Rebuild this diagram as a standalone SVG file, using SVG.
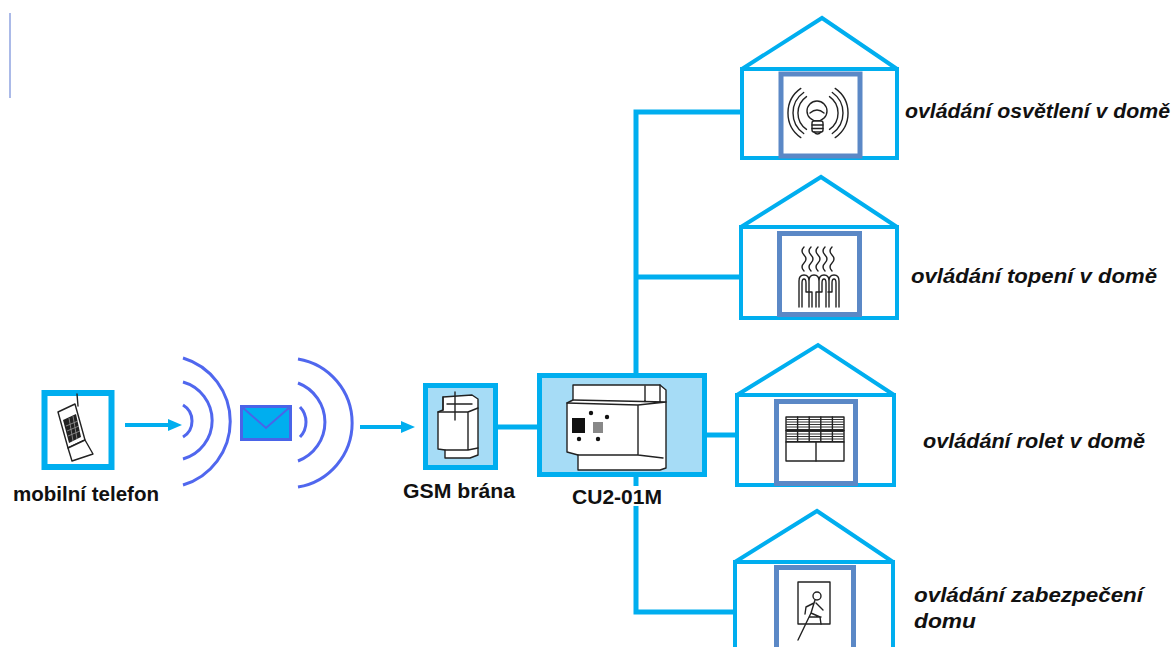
<svg xmlns="http://www.w3.org/2000/svg" width="1173" height="647" viewBox="0 0 1173 647">
  <style>
    .wire { fill: none; stroke: #00AEEF; stroke-width: 5; stroke-linejoin: miter; }
    .arrow { fill: none; stroke: #00AEEF; stroke-width: 4; }
    .box { stroke: #00AEEF; stroke-width: 5; }
    .house { fill: none; stroke: #00AEEF; stroke-width: 4; stroke-linejoin: miter; }
    .frame { fill: #FFFFFF; stroke: #5B88C6; stroke-width: 5; }
    .wave { fill: none; stroke: #5067EE; stroke-width: 3; }
    .ink { fill: none; stroke: #222; stroke-width: 1.4; stroke-linecap: round; stroke-linejoin: round; }
    .inkw { fill: #FFFFFF; stroke: #222; stroke-width: 1.4; stroke-linejoin: round; }
    .lbl { font-family: "Liberation Sans", "DejaVu Sans", sans-serif; font-weight: bold; font-size: 20px; fill: #111; }
    .cap { font-family: "Liberation Sans", "DejaVu Sans", sans-serif; font-weight: bold; font-style: italic; font-size: 20px; fill: #111; }
  </style>
  <defs>
    <marker id="head" viewBox="0 0 14 12" markerWidth="14" markerHeight="12" refX="0" refY="6" orient="auto" markerUnits="userSpaceOnUse">
      <path d="M0,0 L14,6 L0,12 Z" fill="#00AEEF"/>
    </marker>
  </defs>

  <rect width="1173" height="647" fill="#FFFFFF"/>
  <line x1="10" y1="13" x2="10" y2="98" stroke="#8FA3E0" stroke-width="1.5"/>

  <!-- connectors -->
  <g id="connectors">
    <path class="arrow" d="M125,425 H168" marker-end="url(#head)"/>
    <path class="arrow" d="M360,427 H401" marker-end="url(#head)"/>
    <path class="wire" d="M498,427 H537"/>
    <path class="wire" d="M742,112 H636 V373"/>
    <path class="wire" d="M636,277 H741"/>
    <path class="wire" d="M707,435 H737"/>
    <path class="wire" d="M636,477 V486"/>
    <path class="wire" d="M636,506 V612 H735"/>
  </g>

  <!-- mobile phone -->
  <g id="phone">
    <rect x="44.5" y="393" width="67" height="74" fill="#FFFFFF" stroke="#00AEEF" stroke-width="6"/>
    <line class="ink" x1="77" y1="394" x2="78" y2="406" stroke-width="2"/>
    <path class="inkw" d="M58,412 L75,404 L85,440 L68,448 Z"/>
    <path d="M63,420 L76,414 L81,437 L69,443 Z" fill="#222"/>
    <path d="M66,426 L78,421 M67,431 L79,426 M68,436 L80,431 M69,418 L73,441 M73,416 L77,439" stroke="#999" stroke-width="0.8"/>
    <path class="inkw" d="M68,448 L85,440 L93,454 L72,461 Z" stroke="#666"/>
    <text class="lbl" x="13" y="501" textLength="146" lengthAdjust="spacingAndGlyphs">mobilní telefon</text>
  </g>

  <!-- radio waves and message -->
  <g id="message">
    <path class="wave" d="M183,358 A66.3,66.3 0 0 1 183,485"/>
    <path class="wave" d="M183,382 A40,40 0 0 1 183,459"/>
    <path class="wave" d="M183,405 A18.7,18.7 0 0 1 183,437"/>
    <rect x="241.5" y="406.5" width="49" height="33" fill="#00AEEF" stroke="#4A64E8" stroke-width="3"/>
    <path d="M242,407 L266,428 L290,407" fill="none" stroke="#4A64E8" stroke-width="2"/>
    <path class="wave" d="M298,359 A64.9,64.9 0 0 1 298,487"/>
    <path class="wave" d="M298,383 A41.7,41.7 0 0 1 298,461"/>
    <path class="wave" d="M300,407 A21.75,21.75 0 0 1 300,437"/>
  </g>

  <!-- GSM gateway -->
  <g id="gsm">
    <rect class="box" x="425.5" y="385.5" width="70" height="82" fill="#A6DCF6"/>
    <path class="inkw" d="M443,397 L472,395 L478,399 L478,455 L470,458 L445,458 L445,450 L438,449 L438,412 L443,410 Z"/>
    <path class="ink" d="M438,412 L468,412 L468,450 L445,450 M468,412 L478,408 M443,397 L443,410 M455,392 V420 M447,404 H472 M468,450 L478,448"/>
    <text class="lbl" x="403" y="498" textLength="112" lengthAdjust="spacingAndGlyphs">GSM brána</text>
  </g>

  <!-- control unit -->
  <g id="cu">
    <rect class="box" x="539.5" y="375.5" width="165" height="99" fill="#A6DCF6"/>
    <path class="inkw" d="M573,385 L660,385 L666,390 L666,468 L660,470 L578,470 L578,455 L567,452 L567,403 L573,400 Z"/>
    <path class="ink" d="M573,400 L666,402 M567,403 L638,405 L666,402 M638,405 V455 M578,455 L638,455 L663,458 M660,385 V402 M645,386 V402"/>
    <rect x="572" y="418" width="13" height="15" fill="#111"/>
    <rect x="593" y="422" width="10" height="11" fill="#888"/>
    <circle cx="591" cy="413" r="2.2" fill="#111"/>
    <circle cx="607" cy="417" r="2.2" fill="#111"/>
    <circle cx="579" cy="439" r="2.2" fill="#111"/>
    <circle cx="598" cy="439" r="2.2" fill="#111"/>
    <text class="lbl" x="572" y="504" textLength="90" lengthAdjust="spacingAndGlyphs">CU2-01M</text>
  </g>

  <!-- lighting -->
  <g id="house-light">
    <path class="house" d="M742,69 L822,18 L897,69"/>
    <rect class="house" x="742" y="69" width="155" height="89"/>
    <rect class="frame" x="781" y="74" width="79" height="82"/>
    <circle class="ink" cx="817" cy="111" r="10"/>
    <path class="ink" d="M810,113 Q817,107 824,113"/>
    <rect class="inkw" x="812" y="121" width="11" height="11" rx="2"/>
    <path class="ink" d="M812,125 H823 M812,128.5 H823 M814,132 Q817.5,136 821,132"/>
    <path class="wave ink" d="M806.5,96.6 A20,20 0 0 0 806.5,129.4 M803.7,92.5 A25,25 0 0 0 803.7,133.5 M800.8,88.4 A30,30 0 0 0 800.8,137.6"/>
    <path class="wave ink" d="M829.5,96.6 A20,20 0 0 1 829.5,129.4 M832.3,92.5 A25,25 0 0 1 832.3,133.5 M835.2,88.4 A30,30 0 0 1 835.2,137.6"/>
    <text class="cap" x="905" y="118" textLength="265" lengthAdjust="spacingAndGlyphs">ovládání osvětlení v domě</text>
  </g>

  <!-- heating -->
  <g id="house-heat">
    <path class="house" d="M741,227 L821,177 L897,227"/>
    <rect class="house" x="741" y="227" width="156" height="91"/>
    <rect class="frame" x="779.5" y="233.5" width="80" height="81"/>
    <path class="ink" d="M804,247 q-4,4 0,8 t0,8 t0,8 M811,247 q-4,4 0,8 t0,8 t0,8 M818,247 q-4,4 0,8 t0,8 t0,8 M825,247 q-4,4 0,8 t0,8 t0,8 M832,247 q-4,4 0,8 t0,8 t0,8"/>
    <path class="ink" d="M799,307 V281 Q799,275 804,275 Q809,275 809,281 V307 M809,307 V281 Q809,275 814,275 Q819,275 819,281 V307 M819,307 V281 Q819,275 824,275 Q829,275 829,281 V307 M829,307 V281 Q829,275 834,275 Q839,275 839,281 V307"/>
    <path class="ink" d="M802,307 V283 Q802,279 804,279 Q806,279 806,283 V292 H812 M816,292 H822 V283 Q822,279 824,279 Q826,279 826,283 V307 M832,292 V283 Q832,279 834,279 Q836,279 836,283 V307 M812,292 V307 M816,292 V307 M832,292 H828"/>
    <text class="cap" x="911" y="283" textLength="246" lengthAdjust="spacingAndGlyphs">ovládání topení v domě</text>
  </g>

  <!-- blinds -->
  <g id="house-blinds">
    <path class="house" d="M737,395 L818,345 L894,395"/>
    <rect class="house" x="737" y="395" width="157" height="90"/>
    <rect class="frame" x="776.5" y="401.5" width="79" height="82"/>
    <rect class="inkw" x="786" y="417" width="58" height="44"/>
    <path d="M786,419.5 H844 M786,422 H844 M786,424.5 H844 M786,427 H844 M786,429.5 H844 M786,431.5 H844 M786,434 H844 M786,436.5 H844 M786,439 H844 M786,441.5 H844" stroke="#333" stroke-width="1"/>
    <path class="ink" d="M786,430.5 H844 M797.6,417 V442 M809.2,417 V442 M820.8,417 V442 M832.4,417 V442 M786,442 H844 M816,442 V461"/>
    <text class="cap" x="923" y="448" textLength="222" lengthAdjust="spacingAndGlyphs">ovládání rolet v domě</text>
  </g>

  <!-- security -->
  <g id="house-security">
    <path class="house" d="M735,562 L817,511 L893,562"/>
    <path class="house" d="M735,650 V562 H893 V650"/>
    <rect class="frame" x="776.5" y="567.5" width="77" height="95"/>
    <rect class="inkw" x="798" y="582" width="32" height="42"/>
    <circle class="ink" cx="817" cy="596" r="4" fill="#FFFFFF"/>
    <path class="ink" d="M815,600 L811,613 M814,603 L806,607 L805,614 M816,603 L823,610 M811,613 L798,640 M811,613 L820,617 L821,624 M810,617 H821"/>
    <text class="cap" x="914" y="602" textLength="229" lengthAdjust="spacingAndGlyphs">ovládání zabezpečení</text>
    <text class="cap" x="914" y="628" textLength="62" lengthAdjust="spacingAndGlyphs">domu</text>
  </g>
</svg>
